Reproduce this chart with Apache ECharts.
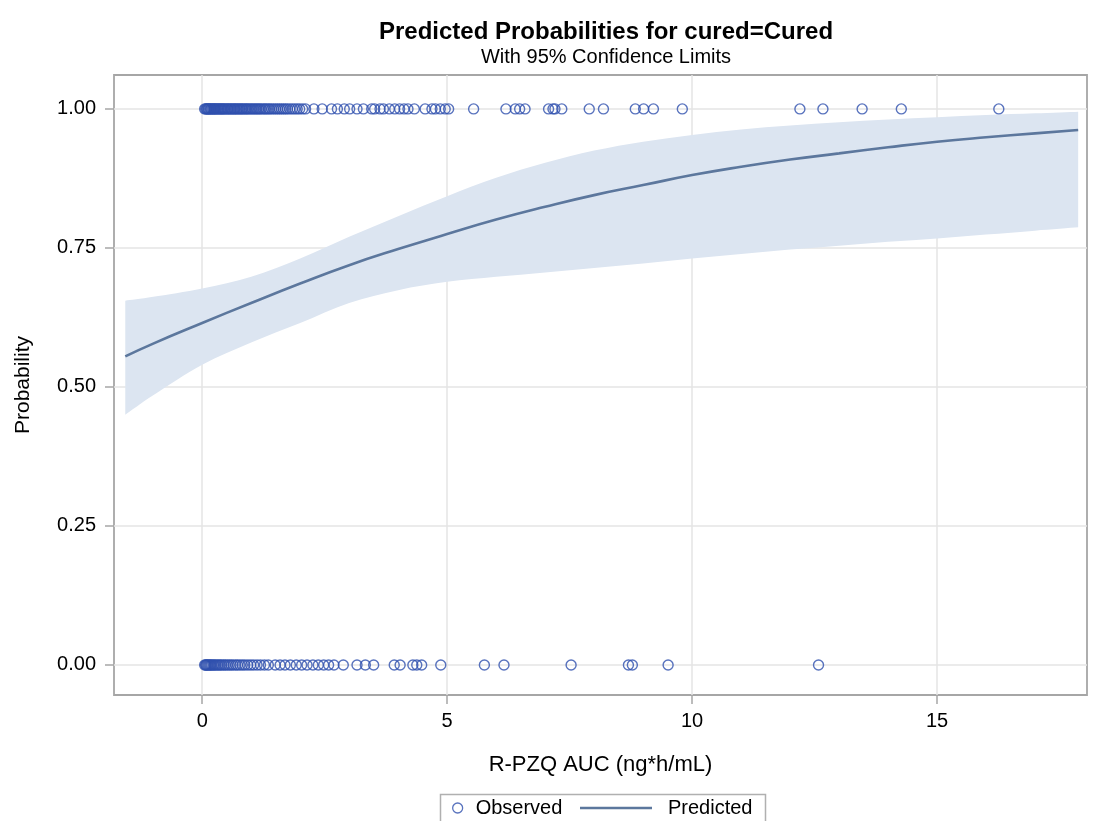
<!DOCTYPE html>
<html>
<head>
<meta charset="utf-8">
<title>Predicted Probabilities for cured=Cured</title>
<script src="https://cdn.jsdelivr.net/npm/echarts@6/dist/echarts.min.js"></script>
<style>
  html, body { margin: 0; padding: 0; background: #fff; }
  #chart { width: 1094px; height: 821px; }
</style>
</head>
<body>
<div id="chart"></div>
<script>
// Observed outcomes: AUC values of patients who were cured (plotted at 1) and not cured (plotted at 0)
const curedAUC = [
  0.05, 0.07, 0.09, 0.10, 0.12, 0.13, 0.15, 0.17, 0.18, 0.20, 0.22, 0.24, 0.25, 0.27, 0.29, 0.31,
  0.33, 0.35, 0.37, 0.39, 0.41, 0.43, 0.45, 0.47, 0.50, 0.52, 0.54, 0.57, 0.59, 0.61, 0.64, 0.66,
  0.68, 0.71, 0.73, 0.76, 0.78, 0.81, 0.83, 0.86, 0.89, 0.91, 0.94, 0.97, 1.00, 1.03, 1.06, 1.09,
  1.12, 1.15, 1.18, 1.21, 1.25, 1.28, 1.31, 1.35, 1.38, 1.42, 1.46, 1.50, 1.54, 1.58, 1.62, 1.66,
  1.70, 1.74, 1.79, 1.84, 1.89, 1.94, 1.99, 2.05, 2.11,
  2.28, 2.45, 2.64, 2.76, 2.90, 3.01, 3.16, 3.29, 3.46, 3.52, 3.63, 3.70, 3.82, 3.93, 4.03, 4.12,
  4.20, 4.33, 4.55, 4.69, 4.76, 4.86, 4.96, 5.03, 5.54, 6.20, 6.39, 6.48, 6.59, 7.07, 7.16, 7.20,
  7.34, 7.90, 8.19, 8.84, 9.01, 9.21, 9.80, 12.20, 12.67, 13.47, 14.27, 16.26
];
const notCuredAUC = [
  0.05, 0.07, 0.08, 0.10, 0.12, 0.14, 0.16, 0.18, 0.20, 0.23, 0.25, 0.28, 0.31, 0.34, 0.37, 0.40,
  0.44, 0.47, 0.51, 0.55, 0.59, 0.63, 0.68, 0.72, 0.77, 0.82, 0.87, 0.93, 0.99, 1.05, 1.12, 1.19,
  1.27, 1.35,
  1.49, 1.59, 1.69, 1.80, 1.92, 2.03, 2.14, 2.26, 2.37, 2.48, 2.58, 2.69, 2.88, 3.16, 3.33, 3.50,
  3.92, 4.04, 4.30, 4.38, 4.48, 4.87, 5.76, 6.16, 7.53, 8.70, 8.78, 9.51, 12.58
];

// Fitted probability curve
const predX = [-1.57, -1, 0, 1, 2, 3, 4, 5, 6, 7, 8, 9, 10, 11, 12, 13, 14, 15, 16, 17, 17.88];
const predP = [0.555, 0.578, 0.615, 0.651, 0.686, 0.719, 0.748, 0.775, 0.801, 0.824, 0.845,
               0.863, 0.881, 0.896, 0.909, 0.920, 0.931, 0.941, 0.949, 0.956, 0.962];

// 95% confidence limits
const bandX     = [-1.57, -1, 0, 1, 2, 3, 4, 5, 6, 7, 8, 9, 10, 11, 12, 13, 14, 15, 16, 17, 17.88];
const bandUpper = [0.655, 0.662, 0.677, 0.698, 0.731, 0.770, 0.807, 0.843, 0.876, 0.903, 0.925,
                   0.941, 0.953, 0.963, 0.970, 0.976, 0.981, 0.985, 0.989, 0.992, 0.995];
const bandLower = [0.450, 0.485, 0.540, 0.580, 0.615, 0.651, 0.674, 0.689, 0.698, 0.706, 0.714,
                   0.722, 0.731, 0.739, 0.747, 0.754, 0.761, 0.767, 0.774, 0.781, 0.787];

// Axis ticks
const xTicks = [0, 5, 10, 15];
const yTicks = [0, 0.25, 0.5, 0.75, 1];
const yTickLabels = ['0.00', '0.25', '0.50', '0.75', '1.00'];

const FONT = 'Liberation Sans, Arial, sans-serif';
const OBS_COLOR = '#2f50ae';
const LINE_COLOR = '#5c779d';
const BAND_COLOR = '#dce5f1';
const FRAME_COLOR = '#a6a6a6';

// Catmull-Rom spline through pixel points, written as SVG cubic segments
function splineSegments(pts) {
  let d = '';
  for (let i = 0; i < pts.length - 1; i++) {
    const p0 = pts[Math.max(i - 1, 0)];
    const p1 = pts[i];
    const p2 = pts[i + 1];
    const p3 = pts[Math.min(i + 2, pts.length - 1)];
    const c1 = [p1[0] + (p2[0] - p0[0]) / 6, p1[1] + (p2[1] - p0[1]) / 6];
    const c2 = [p2[0] - (p3[0] - p1[0]) / 6, p2[1] - (p3[1] - p1[1]) / 6];
    d += ' C' + c1[0] + ',' + c1[1] + ' ' + c2[0] + ',' + c2[1] + ' ' + p2[0] + ',' + p2[1];
  }
  return d;
}

const chart = echarts.init(document.getElementById('chart'), null, { renderer: 'canvas' });

chart.setOption({
  backgroundColor: '#fff',
  animation: false,
  textStyle: { fontFamily: FONT },
  title: {
    text: 'Predicted Probabilities for cured=Cured',
    subtext: 'With 95% Confidence Limits',
    left: 601,
    textAlign: 'center',
    top: 15,
    itemGap: 3,
    textStyle: { fontFamily: FONT, fontSize: 24, fontWeight: 'bold', color: '#000' },
    subtextStyle: { fontFamily: FONT, fontSize: 20, color: '#000' }
  },
  legend: [
    {
      data: ['Observed'],
      left: 447, top: 793,
      icon: 'circle',
      itemWidth: 10, itemHeight: 10,
      itemStyle: { color: 'transparent', borderColor: OBS_COLOR, borderWidth: 1.3 },
      textStyle: { fontFamily: FONT, fontSize: 20, color: '#000', padding: [0, 0, 0, 8] }
    },
    {
      data: ['Predicted'],
      left: 575, top: 793,
      icon: 'rect',
      itemWidth: 72, itemHeight: 2.5,
      textStyle: { fontFamily: FONT, fontSize: 20, color: '#000', padding: [0, 0, 0, 11] }
    }
  ],
  graphic: [{
    type: 'rect',
    shape: { x: 440.5, y: 794.5, width: 325, height: 40 },
    style: { fill: 'none', stroke: '#b0b0b0', lineWidth: 1.5 },
    silent: true
  }],
  grid: {
    left: 114, right: 7, top: 75, bottom: 126,
    show: true, borderColor: FRAME_COLOR, borderWidth: 1.8, backgroundColor: 'transparent',
    containLabel: false
  },
  xAxis: {
    type: 'value',
    min: -1.8, max: 18.06,
    name: 'R-PZQ AUC (ng*h/mL)',
    nameLocation: 'middle',
    nameGap: 59,
    nameTextStyle: { fontFamily: FONT, fontSize: 22, color: '#000' },
    axisLine: { show: false, onZero: false },
    axisTick: { show: true, length: 9, customValues: xTicks, lineStyle: { color: FRAME_COLOR, width: 1.5 } },
    axisLabel: { customValues: xTicks, margin: 16, fontFamily: FONT, fontSize: 20, color: '#000' },
    splitLine: { show: true, lineStyle: { color: '#e4e4e4', width: 1.5 } }
  },
  yAxis: {
    type: 'value',
    min: -0.054, max: 1.061,
    name: 'Probability',
    nameLocation: 'middle',
    nameGap: 80,
    nameTextStyle: { fontFamily: FONT, fontSize: 21, color: '#000' },
    axisLine: { show: false, onZero: false },
    axisTick: { show: true, length: 9, customValues: yTicks, lineStyle: { color: FRAME_COLOR, width: 1.5 } },
    axisLabel: {
      customValues: yTicks, margin: 18, fontFamily: FONT, fontSize: 20, color: '#000',
      formatter: v => yTickLabels[yTicks.findIndex(t => Math.abs(t - v) < 1e-9)]
    },
    splitLine: { show: true, lineStyle: { color: '#e4e4e4', width: 1.5 } }
  },
  series: [
    {
      // 95% confidence band: smooth upper limit, then lower limit back to the start
      name: '95% Confidence Limits',
      type: 'custom',
      data: [[0, 0]],
      z: 1,
      silent: true,
      renderItem: (params, api) => {
        const up = bandX.map((x, i) => api.coord([x, bandUpper[i]]));
        const lo = bandX.map((x, i) => api.coord([x, bandLower[i]])).reverse();
        const d = 'M' + up[0][0] + ',' + up[0][1] + splineSegments(up) +
                  ' L' + lo[0][0] + ',' + lo[0][1] + splineSegments(lo) + ' Z';
        return {
          type: 'path',
          shape: { pathData: d, layout: 'center' },
          style: { fill: BAND_COLOR }
        };
      }
    },
    {
      name: 'Predicted',
      type: 'line',
      z: 3,
      data: predX.map((x, i) => [x, predP[i]]),
      smooth: true,
      symbol: 'none',
      lineStyle: { color: LINE_COLOR, width: 2.6 },
      itemStyle: { color: LINE_COLOR }
    },
    {
      name: 'Observed',
      type: 'scatter',
      z: 4,
      symbol: 'circle',
      symbolSize: 10,
      itemStyle: { color: 'transparent', borderColor: OBS_COLOR, borderWidth: 1.4 },
      data: curedAUC.map(x => [x, 1]).concat(notCuredAUC.map(x => [x, 0]))
    }
  ]
});
</script>
</body>
</html>
